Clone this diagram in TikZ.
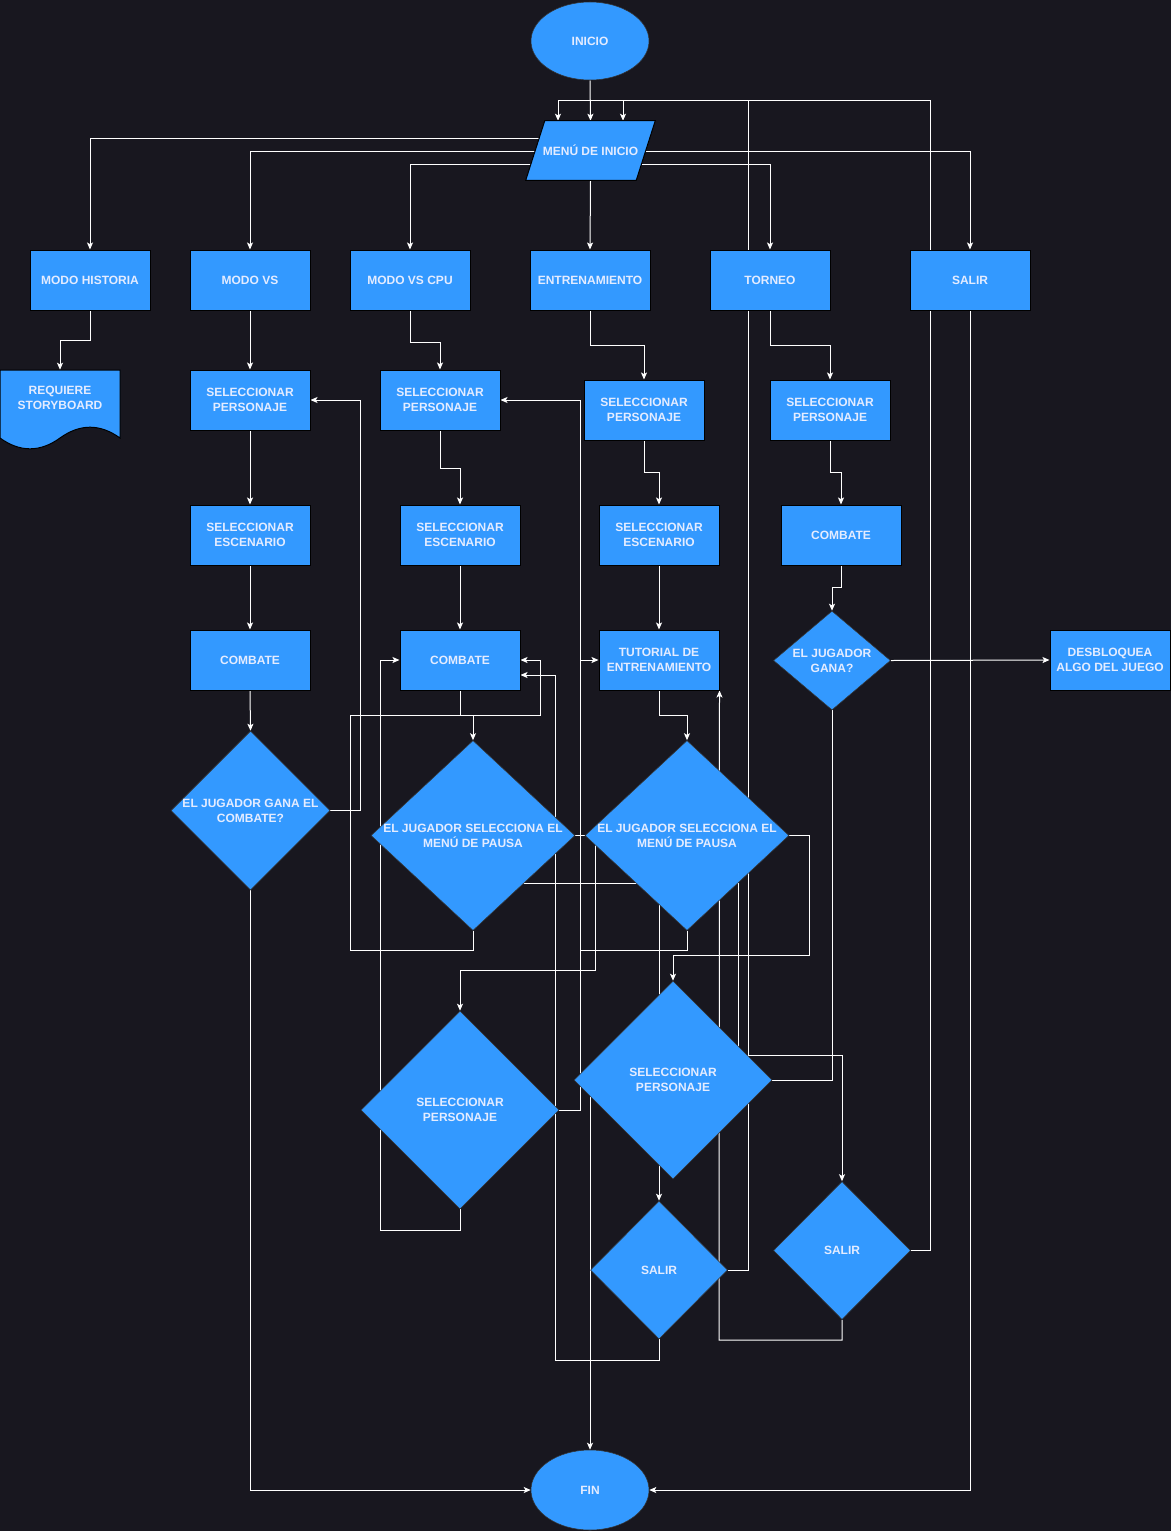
\documentclass[tikz,border=0pt]{standalone}
\usepackage{fontspec}
\setmainfont{Liberation Sans}
\usetikzlibrary{shapes.geometric,arrows.meta,calc}
\definecolor{bgc}{HTML}{18171F}
\definecolor{boxc}{HTML}{3399FF}
\definecolor{txtc}{HTML}{E4ECFF}
\pgfdeclarelayer{bg}\pgfdeclarelayer{edges}\pgfdeclarelayer{shp}
\pgfsetlayers{bg,edges,shp,main}
\begin{document}
\begin{tikzpicture}[x=0.75pt,y=-0.75pt,
  every node/.style={font=\fontsize{9}{11.25}\selectfont\bfseries, text=txtc, align=center, inner sep=0pt},
  box/.style={rectangle, fill=boxc, draw=black, line width=0.75pt, minimum width=90pt, minimum height=45pt},
  dia/.style={diamond, fill=boxc, draw=black!80, line width=0.4pt},
  term/.style={ellipse, fill=boxc, draw=black!80, line width=0.4pt, minimum width=88.5pt},
  arr/.style={draw=white, line width=0.75pt, -{Stealth[length=5.25pt,width=4.5pt,inset=1.2pt]}},
  ln/.style={draw=white, line width=0.75pt}]
\useasboundingbox (0,0) rectangle (1171,1531);
\begin{pgfonlayer}{bg}
\fill[bgc] (0,0) rectangle (1171,1531);
\end{pgfonlayer}

% ---------- nodes ----------
\node[term, minimum height=58.5pt] (INI) at (590,41) {INICIO};
\node[minimum width=96.75pt, minimum height=44.25pt] (MENU) at (590.5,150.5) {MENÚ DE INICIO};
\begin{pgfonlayer}{shp}
\filldraw[fill=boxc, draw=black, line width=0.75pt] (MENU.south west) -- ($(MENU.north west)+(19,0)$) -- (MENU.north east) -- ($(MENU.south east)+(-19,0)$) -- cycle;
\end{pgfonlayer}

\node[box] (MH)   at (90,280)  {MODO HISTORIA};
\node[box] (MVS)  at (250,280) {MODO VS};
\node[box] (MCPU) at (410,280) {MODO VS CPU};
\node[box] (ENT)  at (590,280) {ENTRENAMIENTO};
\node[box] (TOR)  at (770,280) {TORNEO};
\node[box] (SAL)  at (970,280) {SALIR};

\node[minimum width=90pt, minimum height=42pt] (REQ) at (60,398) {REQUIERE\\STORYBOARD};
\begin{pgfonlayer}{shp}
\filldraw[fill=boxc, draw=black, line width=0.75pt] (0,370) -- (120,370) -- (120,438)
  .. controls (100,423.6) and (80,423.6) .. (60,438)
  .. controls (40,452.4) and (20,452.4) .. (0,438) -- cycle;
\end{pgfonlayer}

\node[box] (SPVS)  at (250,400) {SELECCIONAR\\PERSONAJE};
\node[box] (SPCPU) at (440,400) {SELECCIONAR\\PERSONAJE};
\node[box] (SPENT) at (644,410) {SELECCIONAR\\PERSONAJE};
\node[box] (SPTOR) at (830,410) {SELECCIONAR\\PERSONAJE};

\node[box] (SEVS)   at (250,535) {SELECCIONAR\\ESCENARIO};
\node[box] (SECPU)  at (460,535) {SELECCIONAR\\ESCENARIO};
\node[box] (SEENT)  at (659,535) {SELECCIONAR\\ESCENARIO};
\node[box] (COMTOR) at (841,535) {COMBATE};

\node[box] (COMVS)  at (250,660) {COMBATE};
\node[box] (COMCPU) at (460,660) {COMBATE};
\node[box] (TUT)    at (659,660) {TUTORIAL DE\\ENTRENAMIENTO};
\node[dia, minimum width=87.75pt, minimum height=74.25pt, label={[name=GANAt]center:{EL JUGADOR\\GANA?}}] (GANA) at (832,660.5) {};
\node[box] (DES) at (1110,660) {DESBLOQUEA\\ALGO DEL JUEGO};

\node[dia, minimum width=119.25pt, minimum height=119.25pt, label={[name=GVSt]center:{EL JUGADOR GANA EL\\COMBATE?}}] (GVS) at (250.5,810.5) {};
\node[dia, minimum width=153pt, minimum height=142.5pt, label={[name=D1t]center:{EL JUGADOR SELECCIONA EL\\MENÚ DE PAUSA}}] (D1) at (473,835.5) {};
\node[dia, minimum width=153pt, minimum height=142.5pt, label={[name=D2t]center:{EL JUGADOR SELECCIONA EL\\MENÚ DE PAUSA}}] (D2) at (687,835.5) {};

\node[dia, minimum width=148.5pt, minimum height=148.5pt, label={[name=SPDt]center:{SELECCIONAR\\PERSONAJE}}] (SPD) at (460,1110) {};
\node[dia, minimum width=148.5pt, minimum height=148.5pt, label={[name=SP2t]center:{SELECCIONAR\\PERSONAJE}}] (SP2) at (673,1080) {};

\node[dia, minimum width=102.75pt, minimum height=103.5pt, label={[name=SAL1t]center:{SALIR}}] (SAL1) at (659,1270) {};
\node[dia, minimum width=102.75pt, minimum height=103.5pt, label={[name=SAL2t]center:{SALIR}}] (SAL2) at (842,1250.5) {};

\node[term, minimum height=60pt] (FIN) at (590,1490) {FIN};

% ---------- connectors ----------
\begin{pgfonlayer}{edges}
\draw[arr] (INI.south) -- (MENU.north);
\draw[arr] (MENU.center) ++(0,-12.5) -| (MH.north);
\draw[arr] (MENU.center) ++(0,0.5) -| (MVS.north);
\draw[arr] (MENU.center) ++(0,13.5) -| (MCPU.north);
\draw[arr] (MENU.south) -- (ENT.north);
\draw[arr] (MENU.center) ++(0,13.5) -| (TOR.north);
\draw[arr] (MENU.center) ++(0,0.5) -| (SAL.north);

\draw[arr] (MH.south) -- (90,340) -| (REQ.north);
\draw[arr] (MVS.south) -- (SPVS.north);
\draw[arr] (MCPU.south) -- (410,342) -| (SPCPU.north);
\draw[arr] (ENT.south) -- (590,345) -| (SPENT.north);
\draw[arr] (TOR.south) -- (770,345) -| (SPTOR.north);

\draw[arr] (SPVS.south) -- (SEVS.north);
\draw[arr] (SPCPU.south) -- (440,468) -| (SECPU.north);
\draw[arr] (SPENT.south) -- (644,472) -| (SEENT.north);
\draw[arr] (SPTOR.south) -- (830,472) -| (COMTOR.north);

\draw[arr] (SEVS.south) -- (COMVS.north);
\draw[arr] (SECPU.south) -- (COMCPU.north);
\draw[arr] (SEENT.south) -- (TUT.north);
\draw[arr] (COMTOR.south) -- (841,587) -| (GANA.north);

\draw[arr] (COMVS.south) -- (GVS.north);
\draw[arr] (COMCPU.south) -- (460,715) -| (D1.north);
\draw[arr] (TUT.south) -- (659,715) -| (D2.north);
\draw[arr] (GANA.east) -- (DES.west);

\draw[arr] (GVS.east) -- (360,810.5) |- (SPVS.east);
\draw[arr] (GVS.south) |- (FIN.west);

\draw[arr] (D1.south) -- (473,950) -- (350.5,950) -- (350.5,715) -- (540,715) |- (COMCPU.east);
\draw[arr] (D1.east) -- (595,835.5) -- (595,970) -| (SPD.north);
\draw[arr] ($(D1.center)+(0,47.5)$) -- (738,883) -- (738,1055) -| (SAL2.north);

\draw[arr] (D2.south) -- (687,950) -- (580,950) |- (TUT.west);
\draw[arr] (D2.east) -- (809,835.5) -- (809,955) -| (SP2.north);
\draw[arr] (D2.center -| SAL1.north) -- (SAL1.north);

\draw[arr] (SPD.east) -- (580,1110) |- (SPCPU.east);
\draw[arr] (SPD.south) -- (460,1230) -- (380,1230) |- (COMCPU.west);

\draw[arr] (SP2.center -| FIN.north) -- (FIN.north);
\draw[ln] (SP2.east) -| (GANA.south);

\draw[arr] (SAL1.south) -- (659,1360) -- (555.5,1360) |- ($(COMCPU.east)+(0,15)$);
\draw[arr] (SAL1.east) -- (748,1270) -- (748,100) -| ($(MENU.north)+(-32.5,0)$);

\draw[arr] (SAL2.east) -- (930,1250.5) -- (930,100) -| ($(MENU.north)+(32.5,0)$);
\draw[arr] (SAL2.south) -- (842,1340) -- (719,1340) -- (TUT.south east);

\draw[arr] (SAL.south) |- (FIN.east);
\end{pgfonlayer}
\end{tikzpicture}
\end{document}
